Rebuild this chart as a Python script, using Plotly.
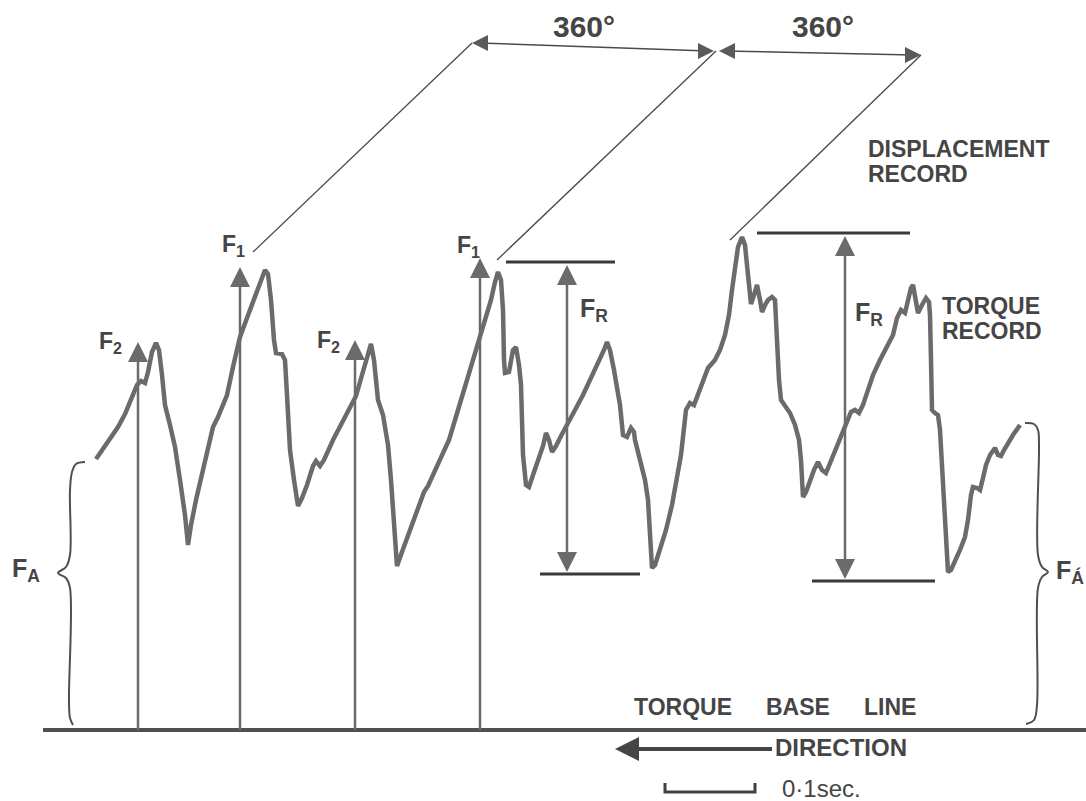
import plotly.graph_objects as go

# ---------------- data (x in chart time units, heights above torque base line) -------------
trace_x = [96, 103, 110, 118, 125, 131, 137, 141, 145, 148, 152, 156, 159, 162, 165, 170, 175, 180, 185, 188,
           191, 196, 203, 208, 213, 218, 223, 227, 233, 240, 247, 253, 260, 265, 268, 271, 274, 276, 282, 285,
           287, 290, 294, 298, 302, 307, 313, 316, 320, 324, 333, 343, 350, 356, 362, 368, 371, 374, 378, 383,
           388, 391, 393, 397, 402, 410, 418, 424, 428, 435, 443, 449, 455, 461, 467, 474, 480, 486, 491, 495,
           498, 501, 503, 504, 505, 509, 513, 516, 519, 521, 522, 523, 526, 529, 533, 538, 543, 546, 549, 552,
           556, 561, 568, 575, 583, 590, 598, 604, 607, 610, 614, 617, 620, 623, 627, 631, 634, 635, 640, 645,
           648, 650, 652, 655, 660, 666, 672, 677, 681, 686, 690, 694, 698, 703, 708, 715, 720, 725, 729, 732,
           735, 738, 742, 745, 747, 749, 751, 754, 757, 760, 762, 765, 768, 772, 775, 776, 777, 779, 781, 785,
           790, 795, 799, 801, 803, 806, 810, 814, 818, 822, 826, 830, 835, 840, 846, 851, 855, 859, 863, 868,
           873, 880, 887, 893, 897, 901, 905, 908, 911, 913, 915, 918, 922, 926, 929, 930, 931, 932, 935, 938,
           940, 942, 945, 948, 951, 955, 960, 965, 968, 971, 973, 977, 980, 983, 986, 990, 995, 998, 1001, 1004,
           1008, 1013, 1020]
torque = [271, 281, 292, 303, 316, 331, 345, 349, 347, 358, 378, 387, 380, 355, 325, 305, 283, 250, 215, 185,
          205, 230, 260, 280, 303, 313, 325, 335, 363, 393, 412, 427, 447, 460, 456, 430, 390, 377, 376, 370,
          335, 280, 250, 224, 232, 245, 264, 269, 264, 270, 290, 310, 323, 334, 355, 374, 386, 370, 330, 315,
          285, 250, 220, 164, 178, 200, 220, 238, 244, 260, 278, 290, 310, 330, 348, 370, 390, 410, 430, 448,
          458, 450, 420, 370, 357, 358, 380, 383, 365, 345, 310, 275, 245, 243, 255, 270, 284, 297, 290, 278,
          284, 294, 306, 320, 335, 350, 365, 380, 388, 380, 360, 345, 325, 295, 293, 302, 298, 290, 270, 250,
          230, 200, 162, 165, 182, 200, 225, 250, 275, 320, 327, 325, 335, 350, 362, 370, 380, 395, 415, 440,
          465, 483, 493, 485, 465, 440, 426, 435, 445, 430, 418, 425, 430, 433, 430, 410, 380, 350, 330, 325,
          317, 305, 290, 270, 233, 238, 250, 260, 268, 260, 257, 267, 278, 290, 307, 318, 320, 317, 325, 340,
          355, 370, 383, 395, 412, 420, 417, 430, 442, 445, 435, 417, 425, 432, 428, 415, 370, 320, 317, 315,
          300, 260, 210, 158, 160, 168, 180, 193, 210, 235, 243, 242, 240, 252, 265, 275, 282, 275, 274, 280,
          287, 295, 305]

# force arrows F2, F1, F2, F1
force_x = [138, 240, 355, 480]
force_tip = [388, 463, 390, 472]
force_labels = ["F<sub>2</sub>", "F<sub>1</sub>", "F<sub>2</sub>", "F<sub>1</sub>"]
force_label_x = [110, 233, 328, 468]
force_label_y = [388, 485, 389, 484]

# F_R range markers
fr_x = [567, 845]
fr_top = [465, 494]
fr_bottom = [158, 151]
fr_top_x0 = [506, 757]
fr_top_x1 = [615, 910]
fr_bot_x0 = [540, 812]
fr_bot_x1 = [640, 935]
fr_label_x = [594, 869]
fr_label_y = [420, 416]

# displacement record (360 degree) lines
disp_x0 = [253, 497, 730]
disp_y0 = [478, 470, 490]
disp_x1 = [472, 716, 921]
disp_y1 = [687, 679, 675]
deg_labels = ["360°", "360°"]
deg_label_x = [584, 823]

# braces for F_A
brace_l_x = [85, 76, 72, 70, 70, 66, 58, 66, 70, 69, 70, 73]
brace_l_y = [268, 266, 258, 240, 175, 163, 157, 152, 142, 30, 12, 5]
brace_r_x = [1025, 1034, 1038, 1039, 1038, 1042, 1048, 1042, 1038, 1037, 1034, 1026]
brace_r_y = [307, 306, 300, 285, 175, 163, 158, 153, 142, 25, 10, 6]

direction_x = [772, 615]
direction_y = [-19, -19]

scale_bar_x = [665, 665, 755, 755]
scale_bar_y = [-53, -62, -62, -53]

INK = "#454545"
GREY = "#6b6b6b"
FONT = "Liberation Sans"

fig = go.Figure()


def line(xs, ys, color, width, shape="linear"):
    fig.add_trace(go.Scatter(x=xs, y=ys, mode="lines", line=dict(color=color, width=width, shape=shape),
                             hoverinfo="skip"))


def heads(xs, ys, symbol, size, color):
    fig.add_trace(go.Scatter(x=xs, y=ys, mode="markers", hoverinfo="skip",
                             marker=dict(symbol=symbol, size=size, color=color, line=dict(width=0))))


# torque base line
line([43, 1086], [0, 0], "#505050", 4)
# torque record
line(trace_x, torque, GREY, 4.5)
# braces
line(brace_l_x, brace_l_y, "#505050", 2, "spline")
line(brace_r_x, brace_r_y, "#505050", 2, "spline")

# force arrows
for i in range(len(force_x)):
    line([force_x[i], force_x[i]], [0, force_tip[i] - 10], GREY, 2.5)
heads(force_x, force_tip, "arrow-up", 20, GREY)

# F_R markers
for i in range(len(fr_x)):
    line([fr_top_x0[i], fr_top_x1[i]], [fr_top[i] + 3, fr_top[i] + 3], "#3a3a3a", 3)
    line([fr_bot_x0[i], fr_bot_x1[i]], [fr_bottom[i] - 2, fr_bottom[i] - 2], "#3a3a3a", 3)
    line([fr_x[i], fr_x[i]], [fr_bottom[i] + 10, fr_top[i] - 10], GREY, 2.5)
heads(fr_x, fr_top, "arrow-up", 20, GREY)
heads(fr_x, fr_bottom, "arrow-down", 20, GREY)

# displacement diagonals and 360 degree dimension arrows
for i in range(len(disp_x0)):
    line([disp_x0[i], disp_x1[i]], [disp_y0[i], disp_y1[i]], "#4a4a4a", 1.3)
line([disp_x1[0] + 8, disp_x1[1] - 8], [disp_y1[0], disp_y1[1]], "#4a4a4a", 1.5)
line([disp_x1[1] + 8, disp_x1[2] - 8], [disp_y1[1], disp_y1[2]], "#4a4a4a", 1.5)
heads([disp_x1[0], disp_x1[1] + 3], [disp_y1[0], disp_y1[1]], "arrow-left", 16, "#5a5a5a")
heads([disp_x1[1] - 2, disp_x1[2]], [disp_y1[1], disp_y1[2]], "arrow-right", 16, "#5a5a5a")

# direction arrow
line([direction_x[0], direction_x[1] + 15], direction_y, "#454545", 4)
heads([direction_x[1]], [direction_y[1]], "arrow-left", 24, "#454545")

# scale bar
line(scale_bar_x, scale_bar_y, "#404040", 3)

ann = []


def label(x, y, text, size, xanchor="center", weight="bold"):
    ann.append(dict(x=x, y=y, xref="x", yref="y", text=text, showarrow=False, xanchor=xanchor,
                    yanchor="middle", font=dict(family=FONT, size=size, color=INK, weight=weight)))


for i in range(len(force_x)):
    label(force_label_x[i], force_label_y[i], force_labels[i], 23)
for i in range(len(fr_x)):
    label(fr_label_x[i], fr_label_y[i], "F<sub>R</sub>", 25)
for i in range(len(deg_labels)):
    label(deg_label_x[i], 704, deg_labels[i], 30)

label(26, 160, "F<sub>A</sub>", 25)
label(1070, 158, "F<sub>Á</sub>", 25)

label(866, 581, "DISPLACEMENT", 23, "left")
label(866, 556, "RECORD", 23, "left")
label(940, 424, "TORQUE", 23, "left")
label(940, 399, "RECORD", 23, "left")

label(683, 23, "TORQUE", 23)
label(798, 23, "BASE", 23)
label(890, 23, "LINE", 23)
label(773, -17, "DIRECTION", 24, "left")
label(780, -58, "0·1sec.", 24, "left", "normal")

fig.update_layout(
    width=1086, height=801, margin=dict(l=0, r=0, t=0, b=0),
    paper_bgcolor="white", plot_bgcolor="white", showlegend=False,
    xaxis=dict(range=[0, 1086], visible=False, fixedrange=True),
    yaxis=dict(range=[-71, 730], visible=False, fixedrange=True),
    annotations=ann,
)

fig.write_html("out.html")
